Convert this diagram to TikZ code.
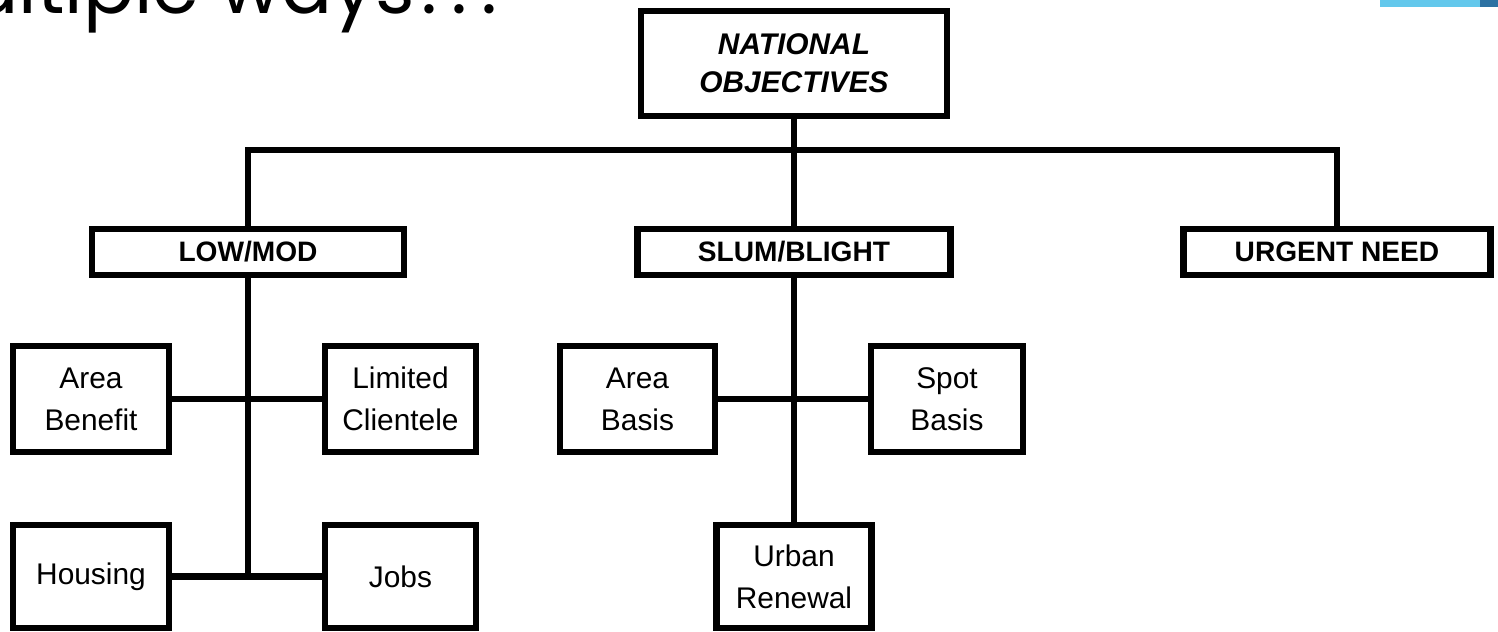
\documentclass[tikz,border=0pt]{standalone}
\usepackage{fontspec}
\setmainfont{Liberation Sans}
\newfontfamily\titlefont{Poppins}
\usepackage{tikz}
\usetikzlibrary{positioning, calc}
\definecolor{slideblue}{HTML}{63C8EC}
\definecolor{slidedark}{HTML}{2C71A2}
\tikzset{objbox/.style={draw, line width=3.6pt, align=center, inner sep=0pt,
          font=\fontsize{17}{24}\selectfont}}
\tikzset{link/.style={line width=3.6pt}}

\begin{document}
\begin{tikzpicture}[x=0.02cm, y=-0.02cm]
    \useasboundingbox (0,0) rectangle (1498,632);
    \clip (0,0) rectangle (1498,632);

    % cut-off slide title and corner band
    \node[anchor=base east, inner sep=0pt, font=\titlefont\fontsize{43}{43}\selectfont] (title) at (498,13)
    {Multiple ways\hspace{4pt}.\hspace{8pt}.\hspace{8pt}.};
    \fill[slideblue] (1380,0) rectangle (1480,7);
    \fill[slidedark] (1480,0) rectangle (1498,7);

    \node[objbox, minimum width=306*0.02cm, minimum height=105*0.02cm,
          font=\bfseries\itshape\fontsize{17}{21.5}\selectfont] (natobj) at (794,63.5) {NATIONAL\\OBJECTIVES};

    \node[objbox, minimum width=312*0.02cm, minimum height=46*0.02cm, font=\bfseries\fontsize{16}{16}\selectfont] (lowmod) at (248,252) {LOW/MOD};
    \node[objbox, minimum width=313*0.02cm, minimum height=46*0.02cm, font=\bfseries\fontsize{16}{16}\selectfont] (slum) at (794,252) {SLUM/BLIGHT};
    \node[objbox, minimum width=307*0.02cm, minimum height=46*0.02cm, font=\bfseries\fontsize{16}{16}\selectfont] (urgent) at (1337,252) {URGENT NEED};

    \node[objbox, minimum width=156*0.02cm, minimum height=106*0.02cm] (areaben) at (91,399) {Area\\Benefit};
    \node[objbox, minimum width=151*0.02cm, minimum height=106*0.02cm] (limcli) at (400.5,399) {Limited\\Clientele};
    \node[objbox, minimum width=156*0.02cm, minimum height=103*0.02cm] (housing) at (91,576.5) {Housing};
    \node[objbox, minimum width=151*0.02cm, minimum height=103*0.02cm] (jobs) at (400.5,576.5) {Jobs};

    \node[objbox, minimum width=155*0.02cm, minimum height=106*0.02cm] (areabas) at (637.5,399) {Area\\Basis};
    \node[objbox, minimum width=152*0.02cm, minimum height=106*0.02cm] (spotbas) at (947,399) {Spot\\Basis};
    \node[objbox, minimum width=155*0.02cm, minimum height=103*0.02cm] (urbren) at (794,576.5) {Urban\\Renewal};

    \coordinate (bus) at (794,150);

    \draw[link] (natobj.south) -- (slum.north);
    \draw[link] (lowmod.north) |- (bus) -| (urgent.north);

    \draw[link] (lowmod.south) -- (lowmod.south |- housing.east);
    \draw[link] (areaben.east) -- (limcli.west);
    \draw[link] (housing.east) -- (jobs.west);

    \draw[link] (slum.south) -- (urbren.north);
    \draw[link] (areabas.east) -- (spotbas.west);
\end{tikzpicture}
\end{document}
